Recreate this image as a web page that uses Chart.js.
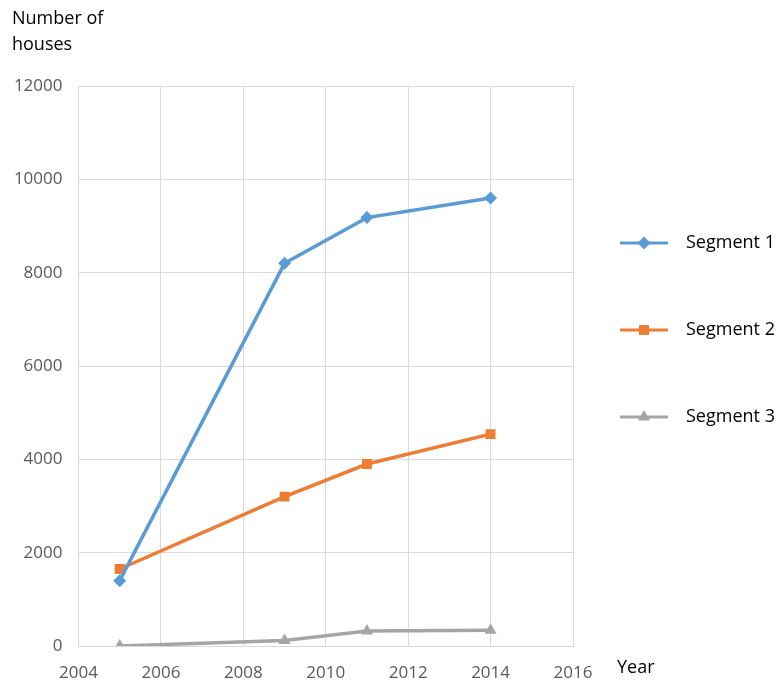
<!DOCTYPE html>
<html>
<head>
<meta charset="utf-8">
<script src="https://cdn.jsdelivr.net/npm/chart.js@4"></script>
<style>
  html, body { margin: 0; padding: 0; background: #fff; }
  #wrap { width: 779px; height: 681px; }
</style>
</head>
<body>
<div id="wrap"><canvas id="houseChart" width="779" height="681"></canvas></div>
<script>
// years on the x axis
const years = [2005, 2009, 2011, 2014];
// number of houses per segment
const segment1 = [1400, 8200, 9180, 9600];
const segment2 = [1650, 3200, 3900, 4540];
const segment3 = [0, 120, 320, 340];
const seriesNames = ["Segment 1", "Segment 2", "Segment 3"];
const xTicks = [2004, 2006, 2008, 2010, 2012, 2014, 2016];
const yTicks = [0, 2000, 4000, 6000, 8000, 10000, 12000];

const toPoints = (vals) => vals.map((v, i) => ({ x: years[i], y: v }));

const FONT = "'Open Sans', 'Liberation Sans', sans-serif";

// legend + axis captions drawn outside the plot area
const extraText = {
  id: "extraText",
  afterDraw(chart) {
    const ctx = chart.ctx;
    ctx.save();
    ctx.fillStyle = "#000";
    ctx.font = "18px " + FONT;
    ctx.textBaseline = "middle";
    ctx.textAlign = "left";
    ctx.fillText("Number of", 12, 19);
    ctx.fillText("houses", 12, 45);
    ctx.fillText("Year", 617, 668);

    const rows = [243, 330, 417];
    chart.data.datasets.forEach((ds, i) => {
      const y = rows[i];
      ctx.strokeStyle = ds.borderColor;
      ctx.lineWidth = 3;
      ctx.beginPath();
      ctx.moveTo(620, y);
      ctx.lineTo(668, y);
      ctx.stroke();
      ctx.fillStyle = ds.backgroundColor;
      Chart.helpers.drawPoint(ctx, {
        pointStyle: ds.pointStyle,
        radius: ds.pointRadius,
        rotation: 0,
        borderWidth: 0
      }, 644, y);
      ctx.fillStyle = "#000";
      ctx.fillText(ds.label, 686, y);
    });
    ctx.restore();
  }
};

new Chart(document.getElementById("houseChart"), {
  type: "line",
  data: {
    datasets: [
      {
        label: seriesNames[0],
        data: toPoints(segment1),
        borderColor: "#5b9bd5",
        backgroundColor: "#5b9bd5",
        borderWidth: 3.5,
        pointStyle: "rectRot",
        pointRadius: 6.5,
        pointBorderWidth: 0,
        tension: 0
      },
      {
        label: seriesNames[1],
        data: toPoints(segment2),
        borderColor: "#ed7d31",
        backgroundColor: "#ed7d31",
        borderWidth: 3.5,
        pointStyle: "rect",
        pointRadius: 7,
        pointBorderWidth: 0,
        tension: 0
      },
      {
        label: seriesNames[2],
        data: toPoints(segment3),
        borderColor: "#a5a5a5",
        backgroundColor: "#a5a5a5",
        borderWidth: 3.5,
        pointStyle: "triangle",
        pointRadius: 7,
        pointBorderWidth: 0,
        tension: 0
      }
    ]
  },
  options: {
    responsive: false,
    animation: false,
    layout: {
      padding: { top: 86, right: 206, bottom: 0, left: 0 }
    },
    plugins: {
      legend: { display: false },
      tooltip: { enabled: false }
    },
    scales: {
      x: {
        type: "linear",
        min: 2004,
        max: 2016,
        afterBuildTicks(scale) {
          scale.ticks = xTicks.map(v => ({ value: v }));
        },
        afterFit(scale) { scale.height = 35; },
        grid: { color: "#d9d9d9", lineWidth: 1, drawTicks: false },
        border: { color: "#d9d9d9" },
        ticks: {
          color: "#595959",
          font: { size: 17, family: FONT },
          padding: 17,
          maxRotation: 0,
          callback: v => String(v)
        }
      },
      y: {
        min: 0,
        max: 12000,
        afterBuildTicks(scale) {
          scale.ticks = yTicks.map(v => ({ value: v }));
        },
        afterFit(scale) { scale.width = 78.5; },
        grid: { color: "#d9d9d9", lineWidth: 1, drawTicks: false },
        border: { color: "#d9d9d9" },
        ticks: {
          color: "#595959",
          font: { size: 17, family: FONT },
          padding: 16,
          callback: v => String(v)
        }
      }
    }
  },
  plugins: [extraText]
});
</script>
</body>
</html>
